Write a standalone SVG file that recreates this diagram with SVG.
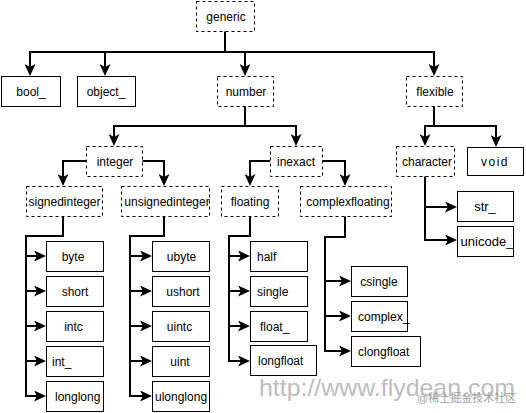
<svg xmlns="http://www.w3.org/2000/svg" width="526" height="413" viewBox="0 0 526 413">
<style>
.b{fill:#fff;stroke:#000;stroke-width:1}
.d{stroke-dasharray:3,3}
.t{font-family:"Liberation Sans",Arial,sans-serif;font-size:12px;fill:#000;text-anchor:middle}
.s{text-anchor:start}
.c{fill:none;stroke:#000;stroke-width:2}
</style>
<defs>
<marker id="ar" viewBox="0 0 12 11" markerWidth="12" markerHeight="11" refX="3" refY="5.5" markerUnits="userSpaceOnUse" orient="auto">
<path d="M0,0 L12,5.5 L0,11 L3,5.5 Z" fill="#000"/>
</marker>
</defs>
<rect width="526" height="413" fill="#fff"/>
<g id="connectors" class="c" marker-end="url(#ar)">
<path d="M225,31 V52 H30 V67"/>
<path d="M225,52 H105 V67"/>
<path d="M225,52 H245 V67"/>
<path d="M225,52 H434 V67"/>
<path d="M245,106 V126 H114 V137"/>
<path d="M245,126 H296 V137"/>
<path d="M434,106 V126 H425 V137"/>
<path d="M434,126 H496 V138"/>
<path d="M86,161 H63 V177"/>
<path d="M142,161 H164 V177"/>
<path d="M270,161 H250 V177"/>
<path d="M322,161 H345 V177"/>
<path d="M425,176 V240 H448"/>
<path d="M425,207 H448"/>
<path d="M63,216 V236 H26 V396 H37"/>
<path d="M26,256 H37"/>
<path d="M26,291 H37"/>
<path d="M26,326 H37"/>
<path d="M26,361 H37"/>
<path d="M164,216 V236 H130 V396 H143"/>
<path d="M130,256 H143"/>
<path d="M130,291 H143"/>
<path d="M130,326 H143"/>
<path d="M130,361 H143"/>
<path d="M250,216 V236 H229 V361 H241"/>
<path d="M229,256 H241"/>
<path d="M229,291 H241"/>
<path d="M229,326 H241"/>
<path d="M345,216 V237 H325 V351 H342"/>
<path d="M325,281 H342"/>
<path d="M325,316 H342"/>
</g>
<g id="generic"><rect class="b d" x="196.5" y="1.5" width="58" height="30"/><text class="t" x="226" y="21">generic</text></g>
<g id="bool_"><rect class="b" x="1.5" y="76.5" width="59" height="30"/><text class="t" x="31" y="96">bool_</text></g>
<g id="object_"><rect class="b" x="77.5" y="76.5" width="58" height="30"/><text class="t" x="106" y="96">object_</text></g>
<g id="number"><rect class="b d" x="217.5" y="76.5" width="56" height="30"/><text class="t" x="246" y="96">number</text></g>
<g id="flexible"><rect class="b d" x="406.5" y="76.5" width="56" height="30"/><text class="t" x="435" y="96">flexible</text></g>
<g id="integer"><rect class="b d" x="86.5" y="146.5" width="56" height="30"/><text class="t" x="115" y="166">integer</text></g>
<g id="inexact"><rect class="b d" x="270.5" y="146.5" width="52" height="30"/><text class="t" x="296" y="166">inexact</text></g>
<g id="character"><rect class="b d" x="396.5" y="146.5" width="58" height="30"/><text class="t" x="427" y="166">character</text></g>
<g id="void"><rect class="b" x="467.5" y="147.5" width="56" height="28"/><text class="t" x="495" y="166" style="letter-spacing:1.5px">void</text></g>
<g id="signedinteger"><rect class="b d" x="26.5" y="186.5" width="76" height="30"/><text class="t" x="64.5" y="206">signedinteger</text></g>
<g id="unsignedinteger"><rect class="b d" x="121.5" y="186.5" width="88" height="30"/><text class="t" x="167" y="206">unsignedinteger</text></g>
<g id="floating"><rect class="b d" x="221.5" y="186.5" width="57" height="30"/><text class="t" x="250" y="206">floating</text></g>
<g id="complexfloating"><rect class="b d" x="300.5" y="186.5" width="91" height="30"/><text class="t" x="348" y="206">complexfloating</text></g>
<g id="str_"><rect class="b" x="457.5" y="191.5" width="56" height="30"/><text class="t" x="485" y="211" style="font-size:13px">str_</text></g>
<g id="unicode_"><rect class="b" x="457.5" y="226.5" width="56" height="30"/><text class="t" x="487" y="246" style="font-size:13px">unicode_</text></g>
<g id="byte"><rect class="b" x="46.5" y="241.5" width="57" height="30"/><text class="t" x="73" y="261">byte</text></g>
<g id="short"><rect class="b" x="46.5" y="276.5" width="57" height="30"/><text class="t" x="75" y="296">short</text></g>
<g id="intc"><rect class="b" x="46.5" y="311.5" width="57" height="30"/><text class="t" x="73.5" y="331">intc</text></g>
<g id="int_"><rect class="b" x="46.5" y="346.5" width="57" height="30"/><text class="t s" x="52" y="366">int_</text></g>
<g id="longlong"><rect class="b" x="46.5" y="381.5" width="57" height="30"/><text class="t s" x="55" y="401">longlong</text></g>
<g id="ubyte"><rect class="b" x="152.5" y="241.5" width="57" height="30"/><text class="t" x="181.5" y="261">ubyte</text></g>
<g id="ushort"><rect class="b" x="152.5" y="276.5" width="57" height="30"/><text class="t" x="183" y="296">ushort</text></g>
<g id="uintc"><rect class="b" x="152.5" y="311.5" width="57" height="30"/><text class="t" x="179.5" y="331">uintc</text></g>
<g id="uint"><rect class="b" x="152.5" y="346.5" width="57" height="30"/><text class="t" x="180" y="366">uint</text></g>
<g id="ulonglong"><rect class="b" x="152.5" y="381.5" width="57" height="30"/><text class="t s" x="155" y="401">ulonglong</text></g>
<g id="half"><rect class="b" x="250.5" y="241.5" width="57" height="30"/><text class="t s" x="257" y="261">half</text></g>
<g id="single"><rect class="b" x="250.5" y="276.5" width="57" height="30"/><text class="t s" x="257" y="296">single</text></g>
<g id="float_"><rect class="b" x="250.5" y="311.5" width="57" height="30"/><text class="t s" x="260" y="331">float_</text></g>
<g id="longfloat"><rect class="b" x="250.5" y="345.5" width="66" height="30"/><text class="t s" x="258" y="365">longfloat</text></g>
<g id="csingle"><rect class="b" x="351.5" y="266.5" width="56" height="30"/><text class="t" x="379" y="286">csingle</text></g>
<g id="complex_"><rect class="b" x="351.5" y="301.5" width="56" height="30"/><text class="t s" x="358" y="321">complex_</text></g>
<g id="clongfloat"><rect class="b" x="351.5" y="336.5" width="69" height="30"/><text class="t s" x="358" y="356">clongfloat</text></g>
<g id="watermark">
<text x="259" y="396" textLength="256" lengthAdjust="spacingAndGlyphs" style="font-family:'Liberation Sans',Arial,sans-serif;font-size:24px;fill:#bdbdbd">http://www.flydean.com</text>
<text x="417" y="402" style="font-family:'Liberation Sans','Noto Sans CJK SC',sans-serif;font-size:11px;fill:#a0a0a0">@稀土掘金技术社区</text>
</g>
</svg>
